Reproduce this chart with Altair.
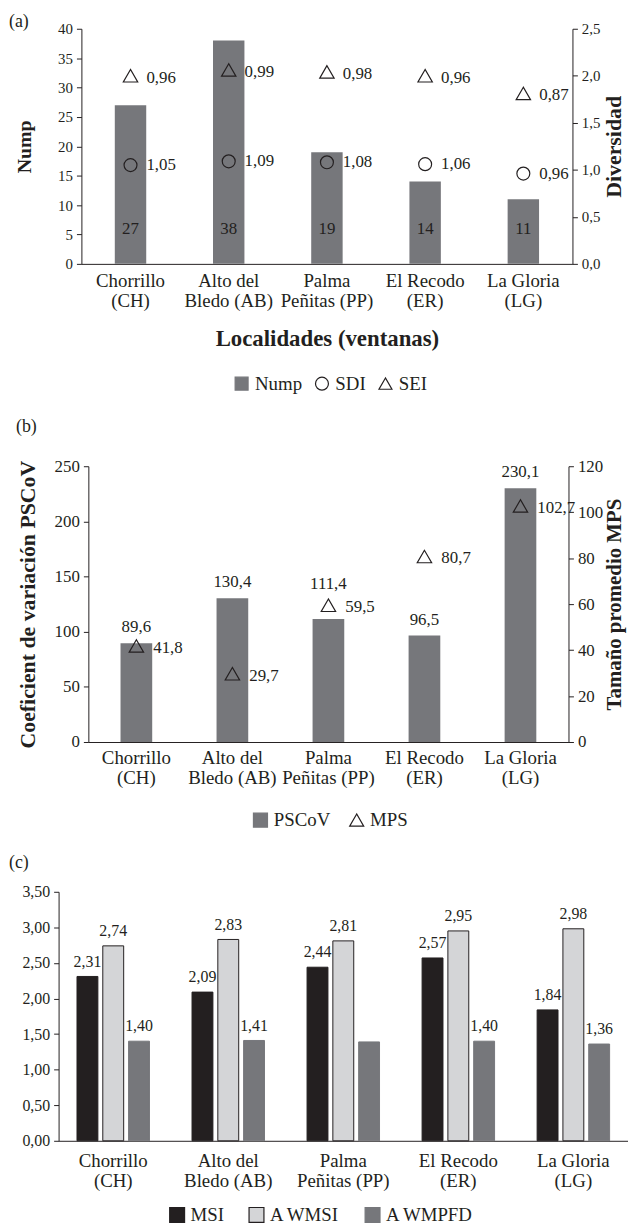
import altair as alt
import pandas as pd

# ---------------- data ----------------
localidades = ["Chorrillo|(CH)", "Alto del|Bledo (AB)", "Palma|Peñitas (PP)",
               "El Recodo|(ER)", "La Gloria|(LG)"]
nump = [27, 38, 19, 14, 11]
sdi = [1.05, 1.09, 1.08, 1.06, 0.96]
sei = [0.96, 0.99, 0.98, 0.96, 0.87]
pscov = [89.6, 130.4, 111.4, 96.5, 230.1]
mps = [41.8, 29.7, 59.5, 80.7, 102.7]
msi = [2.31, 2.09, 2.44, 2.57, 1.84]
awmsi = [2.74, 2.83, 2.81, 2.95, 2.98]
awmpfd = [1.40, 1.41, 1.39, 1.40, 1.36]
awmpfd_labelled = [True, True, False, True, True]
panel_labels = ["(a)", "(b)", "(c)"]
series_a = ["Nump", "SDI", "SEI"]
series_b = ["PSCoV", "MPS"]
series_c = ["MSI", "A WMSI", "A WMPFD"]

FONT = "Liberation Serif"
TXT = "#231f20"
GRAY = "#76777b"
LIGHT = "#d4d5d7"


def fmt(v, d):
    return f"{v:.{d}f}".replace(".", ",")


def yaxis(values, dec, orient, title, title_x, title_size=22, label_size=16):
    return alt.Axis(
        values=values, orient=orient, grid=False, labelOverlap=False,
        labelExpr=f"replace(format(datum.value, '.{dec}f'), '.', ',')",
        labelFont=FONT, labelFontSize=label_size, labelColor=TXT, labelPadding=4,
        tickSize=5, tickColor=TXT, domainColor=TXT,
        title=title, titleX=title_x, titleAngle=270, titleBaseline="middle",
        titleFont=FONT, titleFontSize=title_size, titleFontWeight="bold", titleColor=TXT,
    )


def xaxis(label_pad, line_h, title=None, title_y=None):
    kw = dict(
        labelAngle=0, labelExpr="split(datum.label, '|')", labelFont=FONT,
        labelFontSize=19, labelColor=TXT, labelLineHeight=line_h, labelPadding=label_pad,
        labelOverlap=False, ticks=False, domainColor=TXT, grid=False, title=title,
    )
    if title is not None:
        kw.update(titleY=title_y, titleBaseline="middle", titleFont=FONT, titleFontSize=23,
                  titleFontWeight="bold", titleColor=TXT)
    return alt.Axis(**kw)


def legend(lx, ly, pad, size):
    return alt.Legend(
        title=None, orient="none", legendX=lx, legendY=ly, direction="horizontal",
        labelFont=FONT, labelFontSize=19, labelColor=TXT, symbolSize=size,
        symbolStrokeWidth=1.2, columnPadding=pad, labelOffset=4,
    )


def panel_label(i, x, y):
    return alt.Chart(pd.DataFrame({"t": [panel_labels[i]]})).mark_text(
        align="left", baseline="top", font=FONT, fontSize=18, color=TXT
    ).encode(x=alt.value(x), y=alt.value(y), text="t:N")


def edge(x):
    # invisible guide that fixes how far a panel reaches to the left
    return alt.Chart(pd.DataFrame({"t": [0]})).mark_rule(opacity=0).encode(
        x=alt.value(x), y=alt.value(2), y2=alt.value(10))


def spacer():
    return alt.Chart(pd.DataFrame({"t": [0]})).mark_rule(opacity=0).encode(
        x=alt.value(0), y=alt.value(0), y2=alt.value(1)).properties(width=1, height=1)


# ---------------- panel (a) ----------------
dfa = pd.DataFrame({"loc": localidades, "nump": nump, "sdi": sdi, "sei": sei})
dfa["nump_l"] = [str(v) for v in nump]
dfa["sdi_l"] = [fmt(v, 2) for v in sdi]
dfa["sei_l"] = [fmt(v, 2) for v in sei]

ax_a_left = yaxis(list(range(0, 41, 5)), 0, "left", "Nump", -57, 20, 15)
ax_a_right = yaxis([0, 0.5, 1, 1.5, 2, 2.5], 1, "right", "Diversidad", 41, 22, 15)
sc_a_left = alt.Scale(domain=[0, 40], nice=False)
sc_a_right = alt.Scale(domain=[0, 2.5], nice=False)
sc_a_sei = alt.Scale(domain=[0, 1.2], nice=False)

xa = alt.X("loc:N", sort=localidades, title=None,
           scale=alt.Scale(paddingInner=0.68, paddingOuter=0.34),
           axis=xaxis(8, 20, "Localidades (ventanas)", 75))
leg_a = legend(226, 348, 10, 170)
shape_a = alt.Shape("serie:N", scale=alt.Scale(domain=series_a, range=["square", "circle", "triangle-up"]), legend=leg_a)
fill_a = alt.Fill("serie:N", scale=alt.Scale(domain=series_a, range=[GRAY, "transparent", "transparent"]), legend=leg_a)
stroke_a = alt.Stroke("serie:N", scale=alt.Scale(domain=series_a, range=[GRAY, TXT, TXT]), legend=leg_a)

bars_a = alt.Chart(dfa).mark_bar(color=GRAY).encode(
    x=xa, y=alt.Y("nump:Q", scale=sc_a_left, axis=ax_a_left))
nump_txt = alt.Chart(dfa).mark_text(font=FONT, fontSize=17, color=TXT, baseline="middle").encode(
    x=xa, y=alt.YDatum(6, scale=sc_a_left, axis=ax_a_left), text="nump_l:N")
layer_a1 = alt.layer(bars_a, nump_txt, panel_label(0, -73, -16))

sdi_pts = alt.Chart(dfa).transform_calculate(serie="'SDI'").mark_point(
    size=170, opacity=1, strokeWidth=1.2).encode(
    x=xa, y=alt.Y("sdi:Q", scale=sc_a_right, axis=ax_a_right),
    shape=shape_a, fill=fill_a, stroke=stroke_a,
)
sdi_txt = alt.Chart(dfa).mark_text(align="left", dx=16, font=FONT, fontSize=17, color=TXT,
                                   baseline="middle").encode(
    x=xa, y=alt.Y("sdi:Q", scale=sc_a_right, axis=ax_a_right), text="sdi_l:N")
layer_a2 = alt.layer(sdi_pts, sdi_txt)

sei_pts = alt.Chart(dfa).transform_calculate(serie="'SEI'").mark_point(
    size=210, opacity=1, strokeWidth=1.2).encode(
    x=xa, y=alt.Y("sei:Q", scale=sc_a_sei, axis=None),
    shape=shape_a, fill=fill_a, stroke=stroke_a,
)
sei_txt = alt.Chart(dfa).mark_text(align="left", dx=16, dy=2, font=FONT, fontSize=17, color=TXT,
                                   baseline="middle").encode(
    x=xa, y=alt.Y("sei:Q", scale=sc_a_sei, axis=None), text="sei_l:N")
layer_a3 = alt.layer(sei_pts, sei_txt)

chart_a = alt.layer(layer_a1, layer_a2, layer_a3).resolve_scale(y="independent").properties(
    width=495, height=237)

# ---------------- panel (b) ----------------
dfb = pd.DataFrame({"loc": localidades, "pscov": pscov, "mps": mps})
dfb["pscov_l"] = [fmt(v, 1) for v in pscov]
dfb["mps_l"] = [fmt(v, 1) for v in mps]
raised = localidades[2]  # label moved up to clear the MPS marker

ax_b_left = yaxis(list(range(0, 251, 50)), 0, "left", "Coeficient de variación PSCoV", -61, 22, 17)
ax_b_right = yaxis(list(range(0, 121, 20)), 0, "right", "Tamaño promedio MPS", 46, 21, 17)
sc_b_left = alt.Scale(domain=[0, 250], nice=False)
sc_b_right = alt.Scale(domain=[0, 120], nice=False)

xb = alt.X("loc:N", sort=localidades, title=None,
           scale=alt.Scale(paddingInner=0.67, paddingOuter=0.335), axis=xaxis(7, 20))
leg_b = legend(245, 347, 16, 200)
shape_b = alt.Shape("serie:N", scale=alt.Scale(domain=series_b, range=["square", "triangle-up"]), legend=leg_b)
fill_b = alt.Fill("serie:N", scale=alt.Scale(domain=series_b, range=[GRAY, "transparent"]), legend=leg_b)
stroke_b = alt.Stroke("serie:N", scale=alt.Scale(domain=series_b, range=[GRAY, TXT]), legend=leg_b)

bars_b = alt.Chart(dfb).mark_bar(color=GRAY).encode(
    x=xb, y=alt.Y("pscov:Q", scale=sc_b_left, axis=ax_b_left))
pscov_txt = alt.Chart(dfb).transform_filter(alt.datum.loc != raised).mark_text(
    font=FONT, fontSize=17, color=TXT, baseline="middle", dy=-16).encode(
    x=xb, y=alt.Y("pscov:Q", scale=sc_b_left, axis=ax_b_left), text="pscov_l:N")
pscov_txt_up = alt.Chart(dfb).transform_filter(alt.datum.loc == raised).mark_text(
    font=FONT, fontSize=17, color=TXT, baseline="middle", dy=-35).encode(
    x=xb, y=alt.Y("pscov:Q", scale=sc_b_left, axis=ax_b_left), text="pscov_l:N")
layer_b1 = alt.layer(bars_b, pscov_txt, pscov_txt_up, panel_label(1, -73, -49), edge(-80))

mps_pts = alt.Chart(dfb).transform_calculate(serie="'MPS'").mark_point(
    size=210, opacity=1, strokeWidth=1.2).encode(
    x=xb, y=alt.Y("mps:Q", scale=sc_b_right, axis=ax_b_right),
    shape=shape_b, fill=fill_b, stroke=stroke_b,
)
mps_txt = alt.Chart(dfb).mark_text(align="left", dx=17, dy=2, font=FONT, fontSize=17, color=TXT,
                                   baseline="middle").encode(
    x=xb, y=alt.Y("mps:Q", scale=sc_b_right, axis=ax_b_right), text="mps_l:N")
layer_b2 = alt.layer(mps_pts, mps_txt)

chart_b = alt.layer(layer_b1, layer_b2).resolve_scale(y="independent").properties(width=484, height=278)

# ---------------- panel (c) ----------------
rows = []
for i, loc in enumerate(localidades):
    rows.append({"loc": loc, "serie": series_c[0], "val": msi[i], "lbl": fmt(msi[i], 2)})
    rows.append({"loc": loc, "serie": series_c[1], "val": awmsi[i], "lbl": fmt(awmsi[i], 2)})
    rows.append({"loc": loc, "serie": series_c[2], "val": awmpfd[i],
                 "lbl": fmt(awmpfd[i], 2) if awmpfd_labelled[i] else ""})
dfc = pd.DataFrame(rows)

ax_c = yaxis([0, 0.5, 1, 1.5, 2, 2.5, 3, 3.5], 2, "left", None, 0, 22, 16)
sc_c = alt.Scale(domain=[0, 3.5], nice=False)
xc = alt.X("loc:N", sort=localidades, title=None,
           scale=alt.Scale(paddingInner=0.37, paddingOuter=0.16), axis=xaxis(11, 20))
xoff = alt.XOffset("serie:N", sort=series_c, scale=alt.Scale(paddingInner=0.19, paddingOuter=0))

bars_c = alt.Chart(dfc).mark_bar(strokeWidth=1).encode(
    x=xc, xOffset=xoff, y=alt.Y("val:Q", scale=sc_c, axis=ax_c),
    fill=alt.Fill("serie:N", scale=alt.Scale(domain=series_c, range=[TXT, LIGHT, GRAY]),
                  legend=legend(161, 316, 22, 225)),
    stroke=alt.Stroke("serie:N", scale=alt.Scale(domain=series_c, range=[TXT, TXT, GRAY]), legend=None),
)
txt_c = alt.Chart(dfc).mark_text(font=FONT, fontSize=16, color=TXT, baseline="middle", dy=-15).encode(
    x=xc, xOffset=xoff, y=alt.Y("val:Q", scale=sc_c, axis=ax_c), text="lbl:N")
chart_c = alt.layer(bars_c, txt_c, panel_label(2, -50, -38)).properties(width=574, height=251)

rows_all = [alt.hconcat(spacer(), ch, spacing=0) for ch in (chart_a, chart_b, chart_c)]

chart = alt.vconcat(*rows_all, spacing=24).resolve_scale(
    shape="independent", fill="independent", stroke="independent"
).properties(padding={"left": 0, "top": 0, "right": 0, "bottom": 0}).configure_view(stroke=None)

chart.save("out.html", embed_options={"renderer": "svg", "actions": False})
